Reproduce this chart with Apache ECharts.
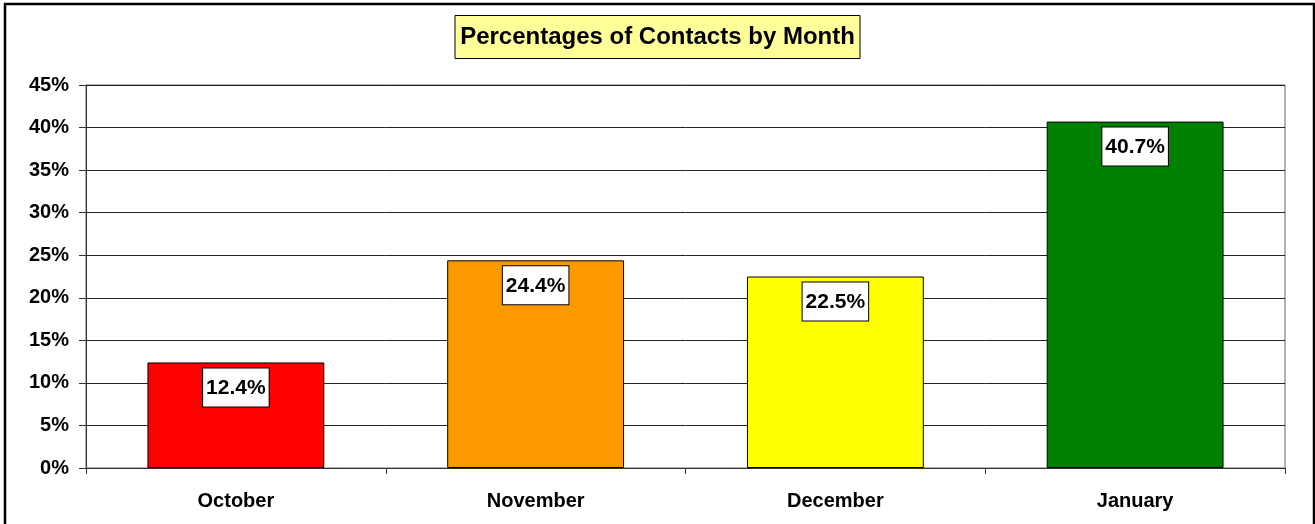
<!DOCTYPE html>
<html><head><meta charset="utf-8">
<script src="https://cdn.jsdelivr.net/npm/echarts@6/dist/echarts.min.js"></script>
<style>html,body{margin:0;padding:0;background:#fff}#c{width:1315px;height:524px}</style>
</head><body><div id="c"></div>
<script>
const categories = ['October', 'November', 'December', 'January'];
const values = [12.4, 24.4, 22.5, 40.7];
const barColors = ['#FF0000', '#FF9900', '#FFFF00', '#008000'];
const yTicks = [0, 5, 10, 15, 20, 25, 30, 35, 40, 45];
const titleText = 'Percentages of Contacts by Month';

const chart = echarts.init(document.getElementById('c'), null, {renderer: 'canvas'});
const font = 'Arial, "Liberation Sans", sans-serif';
chart.setOption({
  animation: false,
  backgroundColor: '#fff',
  title: {
    text: titleText,
    left: 'center', top: 15,
    backgroundColor: '#FFFF99', borderColor: '#000', borderWidth: 1,
    padding: [9, 5, 8, 5],
    textStyle: {fontFamily: font, fontWeight: 'bold', fontSize: 24, color: '#000', lineHeight: 27}
  },
  graphic: [{
    type: 'rect', shape: {x: 5, y: 4, width: 1309, height: 560},
    style: {fill: 'none', stroke: '#000', lineWidth: 2.5}, silent: true, z: 100
  }],
  grid: {left: 86, right: 30, top: 85, bottom: 56, show: true, borderColor: '#666', borderWidth: 1, containLabel: false},
  xAxis: {
    type: 'category', data: categories,
    axisLine: {lineStyle: {color: '#333', width: 1}},
    axisTick: {show: true, alignWithLabel: false, length: 6, lineStyle: {color: '#333'}},
    axisLabel: {fontFamily: font, fontWeight: 'bold', fontSize: 20, color: '#000', margin: 23}
  },
  yAxis: {
    type: 'value', min: 0, max: 45, interval: 5,
    axisLine: {show: true, lineStyle: {color: '#333', width: 1}},
    axisTick: {show: true, length: 7, lineStyle: {color: '#333'}},
    splitLine: {show: true, lineStyle: {color: '#222', width: 1}},
    axisLabel: {fontFamily: font, fontWeight: 'bold', fontSize: 20, color: '#000', margin: 17,
      formatter: v => yTicks.includes(v) ? v + '%' : ''}
  },
  series: [{
    type: 'bar',
    barCategoryGap: '41%',
    data: values.map((v, i) => ({value: v, itemStyle: {color: barColors[i]}})),
    itemStyle: {borderColor: '#000', borderWidth: 1},
    label: {
      show: true, position: 'insideTop', distance: 6,
      formatter: p => p.value.toFixed(1) + '%',
      fontFamily: font, fontWeight: 'bold', fontSize: 21, color: '#000',
      backgroundColor: '#fff', borderColor: '#000', borderWidth: 1,
      padding: [9, 3, 8, 3], lineHeight: 21
    }
  }]
});
</script></body></html>
